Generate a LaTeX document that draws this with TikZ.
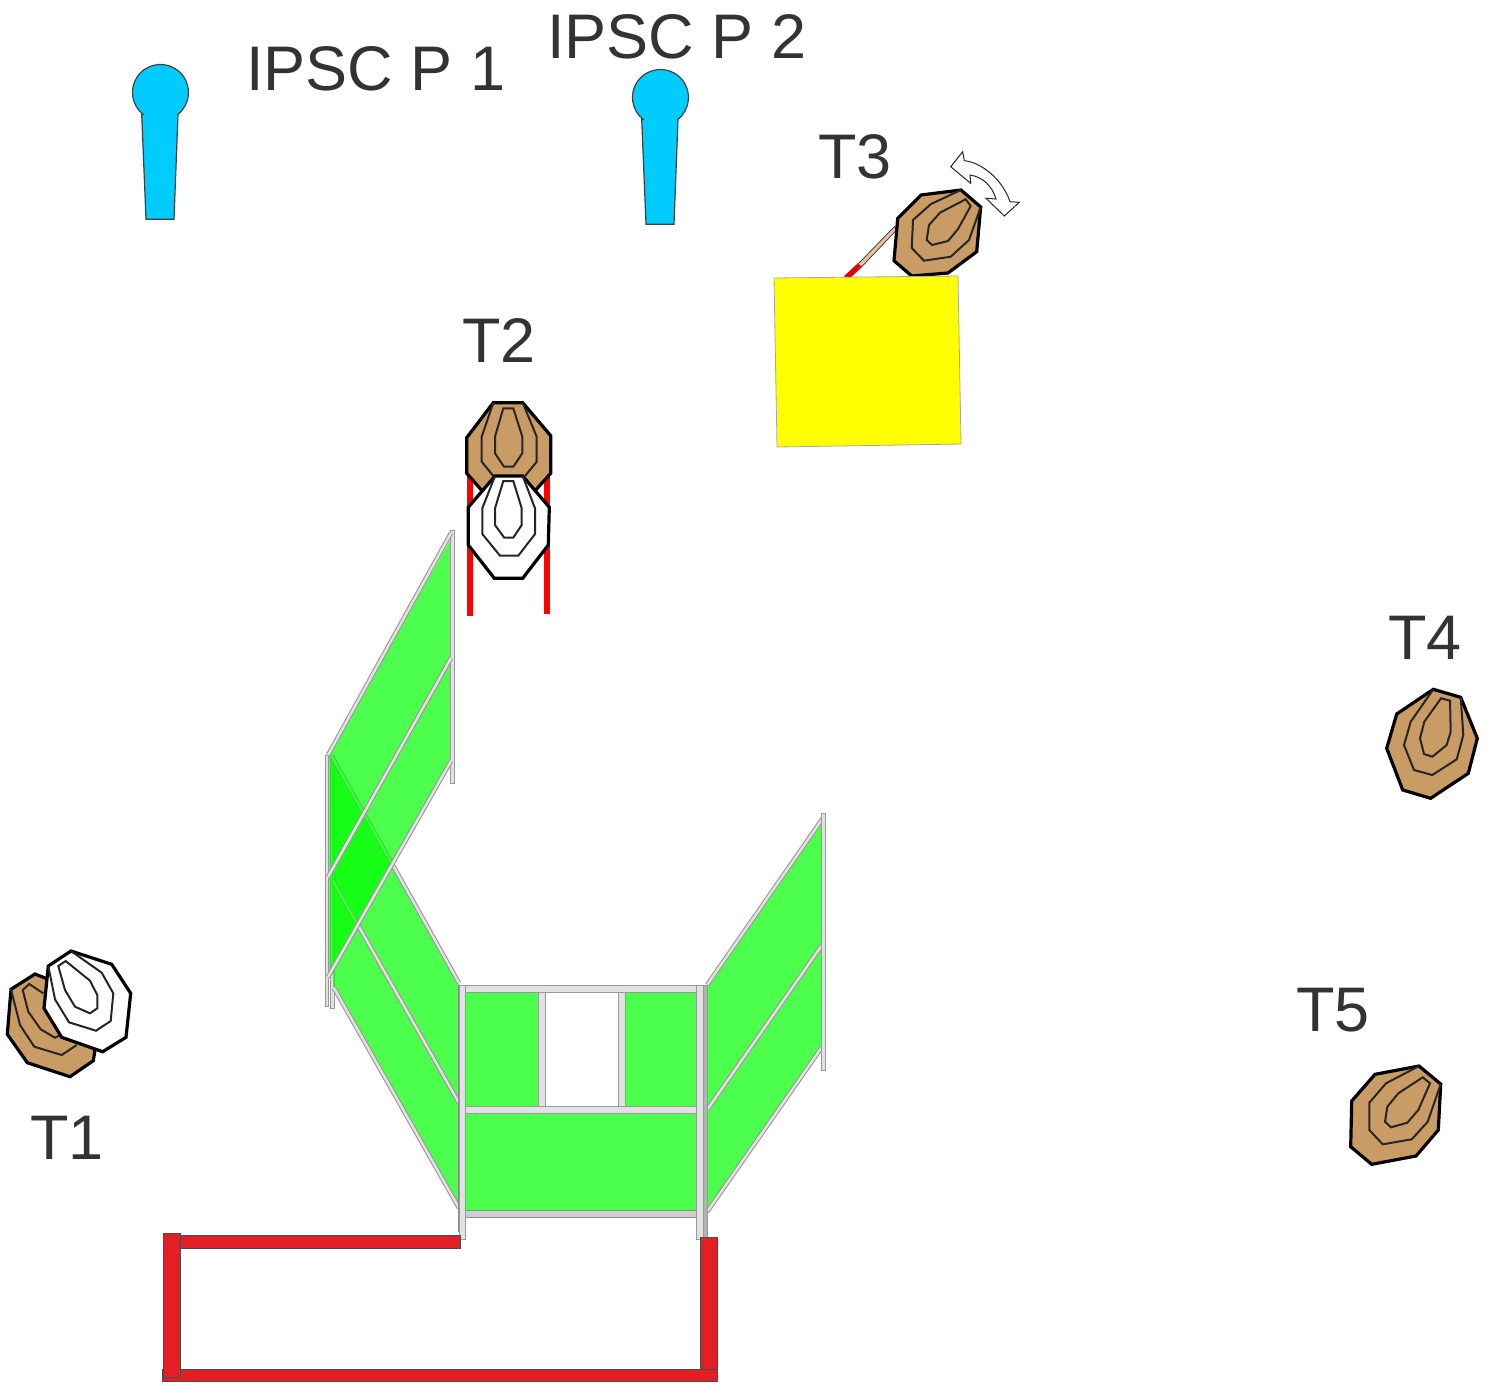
\documentclass[tikz,border=0pt]{standalone}
\usepackage{fontspec}
\setmainfont{Liberation Sans}
\definecolor{tan1}{HTML}{C99B65}
\definecolor{pop}{HTML}{00CCFF}
\definecolor{barred}{HTML}{E31E24}
\definecolor{txt}{HTML}{333333}
\definecolor{railfill}{HTML}{E2E2E2}
\definecolor{railedge}{HTML}{999999}
\definecolor{yel}{HTML}{FFFF00}
\definecolor{purered}{HTML}{FF0000}
\definecolor{puregreen}{HTML}{00FF00}
\tikzset{
  outer/.style={draw=black,line width=3.2pt,line join=miter,fill=#1},
  ring/.style={draw=black!85,line width=2pt,line join=miter},
  lab/.style={anchor=base west,inner sep=0pt,text=txt,font=\fontsize{63}{63}\selectfont},
  popper/.style={draw=black!75,line width=1.2pt,fill=pop},
  wallgreen/.style={fill=puregreen,fill opacity=.7},
  overlay/.style={draw=railedge,line width=.9pt,fill=railfill},
  rail/.style={draw=railedge,double=railfill,line width=1.1pt,double distance=2.4pt},
  darkrail/.style={draw=gray!90,line width=1pt,fill=railfill!80!gray},
  redbar/.style={draw=black!70,line width=1pt,fill=barred}
}
\begin{document}
\begin{tikzpicture}[x=1pt,y=-1pt]
\useasboundingbox (0,0) rectangle (1490,1382);
% poppers
\draw[popper] (141.7,114.3) -- (146,219.3) -- (174,219.3) -- (178,114.3) arc[start angle=-51.3,end angle=231.3,radius=28pt] -- cycle;
\draw[popper] (641.7,119.3) -- (646,224.3) -- (674,224.3) -- (678,119.3) arc[start angle=-51.3,end angle=231.3,radius=28pt] -- cycle;
% labels
\node[lab] (p1) at (246,90) {IPSC P 1};
\node[lab] (p2) at (547,58) {IPSC P 2};
\node[lab] (t3) at (818,178) {T3};
\node[lab] (t2) at (462,362) {T2};
\node[lab] (t4) at (1388,659) {T4};
\node[lab] (t5) at (1296,1031) {T5};
\node[lab] (t1) at (30,1159) {T1};
% T3 stick
\fill[fill=tan1!60!white,draw=black!80,line width=.7pt] (894.5,226.5) -- (897,229.5) -- (861.5,267) -- (858,264) -- cycle;
\draw[purered!90!black,line width=5.5pt] (859.5,265.5) -- (846,278);
% T3
\draw[outer=tan1] (921,195) -- (961,190) -- (980.7,207) -- (976.7,251.7) -- (948,273) -- (911.7,276) -- (894,260.7) -- (897.7,218.3) -- cycle;
\draw[ring] (961,190) -- (931,204) -- (913,220) -- (911.7,248) -- (924,260.7) -- (950.7,256.7) -- (969,240) -- (980.7,207);
\draw[ring] (965.7,199.3) -- (970.7,206) -- (958,229) -- (948,241) -- (932,245) -- (926.7,240) -- (929,225) -- (940,212.7) -- cycle;
% yellow box
\draw[draw=gray!70,line width=.8pt,fill=yel] (774,278) -- (958,276) -- (961,444) -- (777,447) -- cycle;
% rotation arrow
\draw[draw=black!85,line width=1pt,fill=white,line join=miter]
 (962.7,151.7) -- (964.3,160.7) .. controls (980,162) and (1002,178) .. (1010,201.7) -- (1019.3,202.3) -- (1004.3,216) -- (986,198.3) -- (996,199) .. controls (992,186) and (983,177) .. (970,175) -- (970.7,183.3) -- (950.7,166.7) -- cycle;
% T2
\fill[purered] (466.7,473) rectangle (472.5,616);
\fill[purered] (544.3,473) rectangle (550,614);
\draw[outer=tan1] (493.3,402.7) -- (522.7,402.7) -- (550.7,435.7) -- (550.7,473.3) -- (525,502) -- (492,502) -- (466.7,473.3) -- (466.7,437.7) -- cycle;
\draw[ring] (493.3,402.7) -- (481.7,436.7) -- (481.7,461.7) -- (495,478);
\draw[ring] (522.7,402.7) -- (536.7,436.7) -- (536.7,461.7) -- (525,476);
\draw[ring] (503.3,408.3) -- (513.3,408.3) -- (522.3,436.7) -- (522.3,453.3) -- (513.3,466.7) -- (504,466.7) -- (495,453.3) -- (495,436.7) -- cycle;
\draw[outer=white] (495,476) -- (522.7,476) -- (549.3,507.3) -- (548.3,545) -- (522.7,578.3) -- (494.3,578.3) -- (468.3,545) -- (468.3,507.3) -- cycle;
\draw[ring] (495,476) -- (482.3,508.3) -- (482.3,534) -- (500,555.7) -- (518.3,555.7) -- (535,534) -- (535,508.3) -- (522.7,476);
\draw[ring] (503.3,481) -- (513.3,481) -- (521.7,508.3) -- (521.7,525) -- (513.3,537.7) -- (504.3,537.7) -- (495,525) -- (495,508.3) -- cycle;
% T1
\draw[outer=tan1] (35,974) -- (60,984) -- (95,1050) -- (93.3,1060.7) -- (70,1076.7) -- (27.3,1062.7) -- (7.3,1034.3) -- (11,989.3) -- cycle;
\draw[ring] (11,989.3) -- (20,1025) -- (34.3,1046.7) -- (61.7,1055) -- (76.7,1045);
\draw[ring] (43.3,993.3) -- (29.3,984) -- (22.7,990) -- (28.3,1011.7) -- (40.7,1029.3) -- (55,1037.7) -- (60,1035);
\draw[outer=white] (71,951) -- (111.7,964.3) -- (130.7,993.3) -- (126,1037.3) -- (102.7,1051.7) -- (61.7,1037.3) -- (44,1008.3) -- (48.3,966) -- cycle;
\draw[ring] (71,951) -- (101.7,972.7) -- (113.3,993.3) -- (110.7,1021) -- (96,1030.7) -- (69,1022.3) -- (55,999.3) -- (48.3,966);
\draw[ring] (65.7,961) -- (90,980.7) -- (97.3,995) -- (97.3,1008.3) -- (90,1013.3) -- (75,1006.7) -- (65,990) -- (58.3,966) -- cycle;
% T4
\draw[outer=tan1] (1433.3,689.3) -- (1460.7,697.3) -- (1477.3,738.3) -- (1468.3,773.3) -- (1430.7,798.3) -- (1402.7,790) -- (1386.7,748.3) -- (1396.7,714) -- cycle;
\draw[ring] (1433.3,689.3) -- (1410.7,721.7) -- (1404,745) -- (1414,770) -- (1432.3,775) -- (1456.7,759.3) -- (1463.3,735) -- (1460.7,697.3);
\draw[ring] (1441,698.3) -- (1450,700.7) -- (1450.7,731.7) -- (1446.7,745) -- (1432.3,756.7) -- (1424,754) -- (1420,738.3) -- (1424.3,721.7) -- cycle;
% T5
\draw[outer=tan1] (1419,1066) -- (1440.7,1084) -- (1438.3,1130) -- (1416,1156) -- (1371.7,1164.3) -- (1350.7,1146.7) -- (1351.7,1101) -- (1375,1074.3) -- cycle;
\draw[ring] (1419,1066) -- (1386,1083.3) -- (1369.3,1102.7) -- (1369.3,1130) -- (1382.7,1144.3) -- (1411.7,1139.3) -- (1427.7,1121.7) -- (1440.7,1084);
\draw[ring] (1422.7,1077.3) -- (1430,1083.3) -- (1418.3,1110) -- (1407.3,1122.7) -- (1391,1127.3) -- (1385,1121.7) -- (1387.3,1106.7) -- (1398.3,1093.3) -- cycle;
% lower left wall
\draw[overlay] (330.5,755) rectangle (334,1008);
\fill[wallgreen] (331,756) -- (459,984) -- (459,1207) -- (333,986) -- cycle;
\draw[rail] (331,755) -- (459,983);
\draw[rail] (333,881) -- (459,1103);
\draw[rail] (334,988) -- (459,1208);
% upper left wall
\fill[wallgreen] (452,537) -- (452,762) -- (328,977) -- (328,755) -- cycle;
\draw[overlay] (325,755) rectangle (328.3,1006);
\draw[overlay] (450.3,530) rectangle (454,783);
\draw[rail] (451,533) -- (328,755);
\draw[rail] (451,658) -- (328,877);
\draw[rail] (451,761) -- (328,977);
% centre wall
\fill[wallgreen] (465.7,992) rectangle (538.7,1106);
\fill[wallgreen] (625.3,992) rectangle (696,1106);
\fill[wallgreen] (465.7,1113) rectangle (696,1211);
\draw[overlay] (465.7,985) rectangle (696,992.3);
\draw[overlay] (465.7,1106.2) rectangle (696,1113.3);
\draw[darkrail] (465.7,1210.7) rectangle (696,1217.3);
\draw[overlay] (538.7,992.3) rectangle (545.7,1106.2);
\draw[overlay] (618,992.3) rectangle (625.3,1106.2);
\fill[gray!90] (457.7,985) rectangle (460,1232);
\draw[overlay] (459.5,985) rectangle (465.7,1239.3);
% right wall
\fill[wallgreen] (707,986) -- (822,820) -- (822,1047) -- (707,1213) -- cycle;
\draw[rail] (707,985) -- (823,818);
\draw[rail] (707,1110) -- (822,945);
\draw[rail] (707,1212) -- (822,1047);
\draw[overlay] (821.3,813) rectangle (825,1070);
\draw[overlay,fill=gray!60] (703.3,985) rectangle (707.7,1237);
\draw[overlay] (696,985) rectangle (703.3,1239.3);
% red bars
\draw[redbar] (180,1235.3) rectangle (460.5,1248.3);
\draw[redbar] (700.5,1237.5) rectangle (717,1369.5);
\draw[redbar] (162.7,1369.5) rectangle (717,1381.5);
\draw[redbar] (163.4,1233) rectangle (180.5,1377.5);
\end{tikzpicture}
\end{document}
